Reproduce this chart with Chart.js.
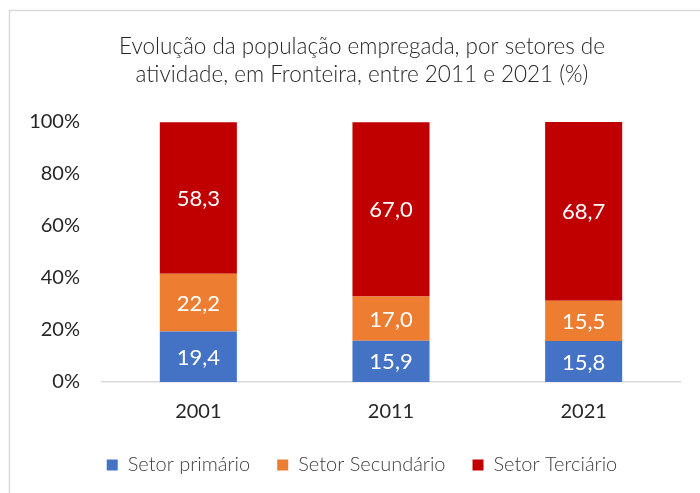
<!DOCTYPE html>
<html><head><meta charset="utf-8">
<script src="https://cdn.jsdelivr.net/npm/chart.js@4"></script>
<style>html,body{margin:0;padding:0;background:#fff}#wrap{width:700px;height:493px;position:relative}</style>
</head><body><div id="wrap"><canvas id="c" width="700" height="493"></canvas></div>
<script>
const categories = ["2001", "2011", "2021"];
const primario = [19.4, 15.9, 15.8];
const secundario = [22.2, 17.0, 15.5];
const terciario = [58.3, 67.0, 68.7];
const seriesNames = ["Setor primário", "Setor Secundário", "Setor Terciário"];
const yTicks = [0, 20, 40, 60, 80, 100];
const titleLines = ["Evolução da população empregada, por setores de", "atividade, em Fronteira, entre 2011 e 2021 (%)"];

const FONT = "Lato, 'Noto Sans', sans-serif";

const framePlugin = {
  id: 'frame',
  beforeDraw(chart) {
    const ctx = chart.ctx;
    ctx.save();
    ctx.fillStyle = '#fff';
    ctx.fillRect(0, 0, chart.width, chart.height);
    ctx.strokeStyle = '#d9d9d9';
    ctx.lineWidth = 1.5;
    ctx.beginPath();
    ctx.moveTo(9.5, chart.height + 5);
    ctx.lineTo(9.5, 10.5);
    ctx.lineTo(chart.width + 5, 10.5);
    ctx.stroke();
    ctx.restore();
  }
};

const labelPlugin = {
  id: 'barLabels',
  afterDatasetsDraw(chart) {
    const ctx = chart.ctx;
    ctx.save();
    ctx.fillStyle = '#ffffff';
    ctx.font = "22px " + FONT;
    ctx.textAlign = 'center';
    ctx.textBaseline = 'middle';
    chart.data.datasets.forEach((ds, i) => {
      const meta = chart.getDatasetMeta(i);
      meta.data.forEach((bar, j) => {
        const v = ds.data[j];
        const y = (bar.y + bar.base) / 2;
        ctx.fillText(v.toFixed(1).replace('.', ','), bar.x, y + 1);
      });
    });
    ctx.restore();
  }
};

new Chart(document.getElementById('c'), {
  type: 'bar',
  data: {
    labels: categories,
    datasets: [
      { label: seriesNames[0], data: primario, backgroundColor: '#4472C4' },
      { label: seriesNames[1], data: secundario, backgroundColor: '#ED7D31' },
      { label: seriesNames[2], data: terciario, backgroundColor: '#C00000' }
    ].map(d => Object.assign(d, { barPercentage: 0.4, categoryPercentage: 1, borderWidth: 0 }))
  },
  options: {
    responsive: false,
    animation: false,
    devicePixelRatio: 1,
    layout: { padding: { left: 24, right: 0, top: 0, bottom: 8 } },
    plugins: {
      title: {
        display: true,
        text: titleLines,
        color: '#262626',
        font: { family: FONT, size: 22.5, weight: 300, lineHeight: 1.245 },
        padding: { top: 33, bottom: 33 }
      },
      legend: {
        position: 'bottom',
        labels: {
          color: '#404040',
          font: { family: FONT, size: 20, weight: 300 },
          boxWidth: 11, boxHeight: 11, padding: 27
        }
      },
      tooltip: { enabled: false }
    },
    scales: {
      x: {
        stacked: true,
        afterFit(s) { s.height = 46; },
        grid: { display: false, drawTicks: false },
        border: { display: true, color: '#d9d9d9', width: 1.5 },
        ticks: { color: '#262626', font: { family: FONT, size: 20 }, padding: 18 }
      },
      y: {
        stacked: true,
        min: 0, max: 100,
        afterFit(s) { s.width = 78; },
        afterBuildTicks(s) { s.ticks = yTicks.map(v => ({ value: v })); },
        grid: { display: false, drawTicks: false },
        border: { display: false },
        ticks: { color: '#262626', font: { family: FONT, size: 20 }, padding: 22, callback: v => v + '%' }
      },
      yRight: {
        position: 'right',
        display: true,
        afterFit(s) { s.width = 20; },
        grid: { display: false, drawTicks: false },
        border: { display: false },
        ticks: { display: false }
      }
    }
  },
  plugins: [framePlugin, labelPlugin]
});
</script></body></html>
